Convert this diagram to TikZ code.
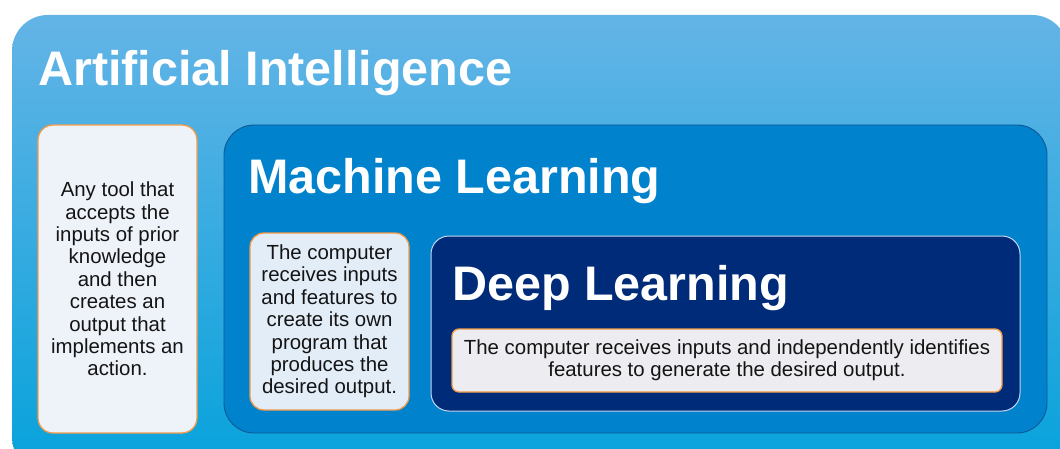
\documentclass[tikz,border=0pt]{standalone}
\usepackage{fontspec}
\setmainfont{Liberation Sans}
\begin{document}
\begin{tikzpicture}[x=1pt,y=1pt,
  title/.style={anchor=base west,inner sep=0pt,text=white,font=\bfseries\fontsize{48.5}{50}\selectfont},
  textbox/.style={draw=boxorange,line width=1.3pt,fill=#1,align=center,inner sep=0pt,
     font=\fontsize{20.4}{22.4}\selectfont,text=black!92},
]
\definecolor{outertop}{HTML}{64B4E6}
\definecolor{outerbot}{HTML}{06A2DB}
\definecolor{mlfill}{HTML}{0082CD}
\definecolor{mlborder}{HTML}{0D5A94}
\definecolor{dlfill}{HTML}{002B78}
\definecolor{dlborder}{HTML}{C4D8F0}
\definecolor{boxorange}{HTML}{F39A48}
\definecolor{aifill}{HTML}{EEF3FA}
\definecolor{mltfill}{HTML}{E3EDF8}
\definecolor{dltfill}{HTML}{ECECF1}
\useasboundingbox (0,0) rectangle (1060,448);
\fill[white] (0,0) rectangle (1060,448);
% outer AI panel
\shade[top color=outertop,bottom color=outerbot,rounded corners=36pt]
  (12,-25) rectangle (1068,433);
\node[title] (aititle) at (38,362) {Artificial Intelligence};
% AI description
\node[textbox=aifill,rounded corners=15pt,minimum width=159pt,minimum height=308pt] (aitext) at (117.5,169)
  {Any tool that\\accepts the\\inputs of prior\\knowledge\\and then\\creates an\\output that\\implements an\\action.};
% ML panel
\filldraw[fill=mlfill,draw=mlborder,line width=0.9pt,rounded corners=30pt] (224,15) rectangle (1047,323);
\node[title] (mltitle) at (248,255) {Machine Learning};
\node[textbox=mltfill,rounded corners=14pt,minimum width=159pt,minimum height=177pt] (mltext) at (329.5,126.5)
  {The computer\\receives inputs\\and features to\\create its own\\program that\\produces the\\desired output.};
% DL panel
\filldraw[fill=dlfill,draw=dlborder,line width=1pt,rounded corners=18pt] (431,37) rectangle (1020,212);
\node[title] (dltitle) at (452,148) {Deep Learning};
\node[textbox=dltfill,rounded corners=7pt,minimum width=550pt,minimum height=63pt] (dltext) at (727,87.5)
  {The computer receives inputs and independently identifies\\features to generate the desired output.};
\end{tikzpicture}
\end{document}
